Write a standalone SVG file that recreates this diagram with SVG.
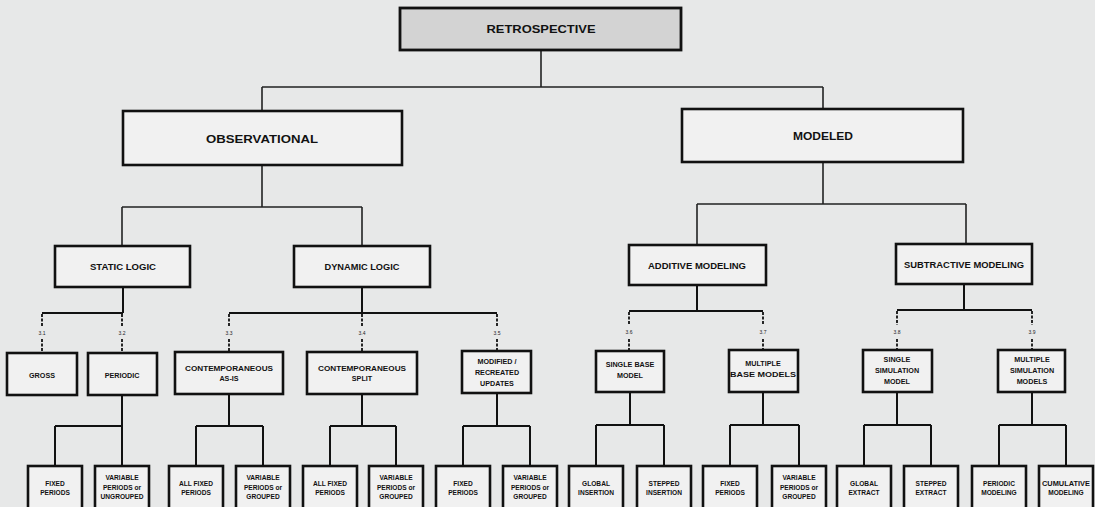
<svg xmlns="http://www.w3.org/2000/svg" width="1095" height="507" viewBox="0 0 1095 507">
  <style>
    .bg { fill: #e7e8e8; }
    .box { fill: #f1f1f1; stroke: #111; stroke-width: 2.6; }
    .root { fill: #d3d3d3; stroke: #111; stroke-width: 2.8; }
    .lbl { font-family: "Liberation Sans", Arial, sans-serif; font-weight: bold; fill: #111; text-anchor: middle; }
    .l1 { font-size: 10.5px; }
    .l2 { font-size: 10px; }
    .l3 { font-size: 8.5px; }
    .l4 { font-size: 7.2px; }
    .l5 { font-size: 6.6px; }
    .num { font-family: "Liberation Sans", Arial, sans-serif; font-size: 5px; fill: #222; text-anchor: middle; }
    .wire { fill: none; stroke: #222; stroke-width: 1.6; }
    .wire2 { fill: none; stroke: #111; stroke-width: 2; }
    .dash { fill: none; stroke: #111; stroke-width: 1.8; stroke-dasharray: 3 1.5; }
  </style>

  <rect class="bg" x="0" y="0" width="1095" height="507"/>

  <!-- connectors -->
  <g id="connectors">
    <!-- root to level 2 -->
    <path class="wire" d="M541,50 V87 M262,87 H823 M262,87 V111 M823,87 V109"/>
    <!-- level 2 to level 3 -->
    <path class="wire" d="M262,165 V207 M122,207 H362 M122,207 V246 M362,207 V246"/>
    <path class="wire" d="M823,162 V204 M697,204 H966 M697,204 V245 M966,204 V244"/>
    <!-- level 3 to level 4 -->
    <path class="wire2" d="M123,287 V313 M42,313 H123"/>
    <path class="wire2" d="M362,287 V313 M229,313 H497"/>
    <path class="wire2" d="M697,285 V311 M629,311 H763"/>
    <path class="wire2" d="M964,284 V310 M897,310 H1032"/>
    <!-- numbered drops -->
    <path class="dash" d="M42,314 V326 M42,339 V352 M122,314 V326 M122,339 V352 M229,314 V326 M229,339 V352 M362,314 V326 M362,339 V352 M497,314 V326 M497,339 V351"/>
    <path class="dash" d="M629,312 V325 M629,339 V351 M763,312 V325 M763,339 V350 M897,311 V325 M897,339 V350 M1032,311 V325 M1032,339 V350"/>
    <!-- level 4 to level 5 -->
    <path class="wire2" d="M122,394 V426 M55,426 H122 M55,426 V466 M122,426 V466"/>
    <path class="wire2" d="M229,394 V426 M196,426 H263 M196,426 V466 M263,426 V466"/>
    <path class="wire2" d="M362,394 V426 M330,426 H396 M330,426 V466 M396,426 V466"/>
    <path class="wire2" d="M497,393 V426 M463,426 H530 M463,426 V466 M530,426 V466"/>
    <path class="wire2" d="M630,392 V425 M596,425 H664 M596,425 V466 M664,425 V466"/>
    <path class="wire2" d="M763,392 V425 M730,425 H799 M730,425 V466 M799,425 V466"/>
    <path class="wire2" d="M897,392 V425 M864,425 H931 M864,425 V466 M931,425 V466"/>
    <path class="wire2" d="M1032,392 V425 M999,425 H1066 M999,425 V466 M1066,425 V466"/>
  </g>

  <!-- step numbers -->
  <g id="numbers">
    <text class="num" x="42" y="335">3.1</text>
    <text class="num" x="122" y="335">3.2</text>
    <text class="num" x="229" y="335">3.3</text>
    <text class="num" x="362" y="335">3.4</text>
    <text class="num" x="497" y="335">3.5</text>
    <text class="num" x="629" y="334">3.6</text>
    <text class="num" x="763" y="334">3.7</text>
    <text class="num" x="897" y="334">3.8</text>
    <text class="num" x="1032" y="334">3.9</text>
  </g>

  <!-- level 1 -->
  <g id="retrospective">
    <rect class="root" x="400" y="8" width="281" height="42"/>
    <text class="lbl l1" x="541" y="33" textLength="109" lengthAdjust="spacingAndGlyphs">RETROSPECTIVE</text>
  </g>

  <!-- level 2 -->
  <g id="observational">
    <rect class="box" x="123" y="111" width="279" height="54"/>
    <text class="lbl l2" x="262" y="143" textLength="112" lengthAdjust="spacingAndGlyphs">OBSERVATIONAL</text>
  </g>
  <g id="modeled">
    <rect class="box" x="682" y="109" width="281" height="53"/>
    <text class="lbl l2" x="823" y="140" textLength="60" lengthAdjust="spacingAndGlyphs">MODELED</text>
  </g>

  <!-- level 3 -->
  <g id="static-logic">
    <rect class="box" x="55" y="246" width="135" height="41"/>
    <text class="lbl l3" x="123" y="270" textLength="66" lengthAdjust="spacingAndGlyphs">STATIC LOGIC</text>
  </g>
  <g id="dynamic-logic">
    <rect class="box" x="294" y="246" width="136" height="41"/>
    <text class="lbl l3" x="362" y="270" textLength="75" lengthAdjust="spacingAndGlyphs">DYNAMIC LOGIC</text>
  </g>
  <g id="additive-modeling">
    <rect class="box" x="629" y="245" width="137" height="40"/>
    <text class="lbl l3" x="697" y="269" textLength="98" lengthAdjust="spacingAndGlyphs">ADDITIVE MODELING</text>
  </g>
  <g id="subtractive-modeling">
    <rect class="box" x="896" y="244" width="136" height="40"/>
    <text class="lbl l3" x="964" y="268" textLength="120" lengthAdjust="spacingAndGlyphs">SUBTRACTIVE MODELING</text>
  </g>

  <!-- level 4 -->
  <g id="gross">
    <rect class="box" x="7" y="353" width="70" height="42"/>
    <text class="lbl l4" x="42" y="377.5">GROSS</text>
  </g>
  <g id="periodic">
    <rect class="box" x="88" y="353" width="69" height="42"/>
    <text class="lbl l4" x="122" y="377.5">PERIODIC</text>
  </g>
  <g id="contemporaneous-as-is">
    <rect class="box" x="175" y="352" width="108" height="42"/>
    <text class="lbl l4" x="229" y="370.5" textLength="88" lengthAdjust="spacingAndGlyphs">CONTEMPORANEOUS</text>
    <text class="lbl l4" x="229" y="380.5">AS-IS</text>
  </g>
  <g id="contemporaneous-split">
    <rect class="box" x="307" y="352" width="110" height="42"/>
    <text class="lbl l4" x="362" y="370.5" textLength="88" lengthAdjust="spacingAndGlyphs">CONTEMPORANEOUS</text>
    <text class="lbl l4" x="362" y="380.5">SPLIT</text>
  </g>
  <g id="modified-recreated">
    <rect class="box" x="462" y="351" width="69" height="42"/>
    <text class="lbl l4" x="497" y="363.5">MODIFIED /</text>
    <text class="lbl l4" x="497" y="374.5">RECREATED</text>
    <text class="lbl l4" x="497" y="385.5">UPDATES</text>
  </g>
  <g id="single-base-model">
    <rect class="box" x="596" y="351" width="68" height="41"/>
    <text class="lbl l4" x="630" y="366.5">SINGLE BASE</text>
    <text class="lbl l4" x="630" y="377.5">MODEL</text>
  </g>
  <g id="multiple-base-models">
    <rect class="box" x="729" y="350" width="69" height="42"/>
    <text class="lbl l4" x="763" y="366">MULTIPLE</text>
    <text class="lbl l4" x="763" y="377" textLength="66" lengthAdjust="spacingAndGlyphs">BASE MODELS</text>
  </g>
  <g id="single-simulation-model">
    <rect class="box" x="863" y="350" width="69" height="42"/>
    <text class="lbl l4" x="897" y="361.5">SINGLE</text>
    <text class="lbl l4" x="897" y="372.5">SIMULATION</text>
    <text class="lbl l4" x="897" y="383.5">MODEL</text>
  </g>
  <g id="multiple-simulation-models">
    <rect class="box" x="998" y="350" width="67" height="42"/>
    <text class="lbl l4" x="1032" y="361.5">MULTIPLE</text>
    <text class="lbl l4" x="1032" y="372.5">SIMULATION</text>
    <text class="lbl l4" x="1032" y="383.5">MODELS</text>
  </g>

  <!-- level 5 -->
  <g id="fixed-periods-1">
    <rect class="box" x="28" y="466" width="54" height="46"/>
    <text class="lbl l5" x="55" y="485.5">FIXED</text>
    <text class="lbl l5" x="55" y="494.5">PERIODS</text>
  </g>
  <g id="variable-ungrouped">
    <rect class="box" x="95" y="466" width="54" height="46"/>
    <text class="lbl l5" x="122" y="480">VARIABLE</text>
    <text class="lbl l5" x="122" y="489.5">PERIODS or</text>
    <text class="lbl l5" x="122" y="499">UNGROUPED</text>
  </g>
  <g id="all-fixed-1">
    <rect class="box" x="169" y="466" width="54" height="46"/>
    <text class="lbl l5" x="196" y="485.5">ALL FIXED</text>
    <text class="lbl l5" x="196" y="494.5">PERIODS</text>
  </g>
  <g id="variable-grouped-1">
    <rect class="box" x="236" y="466" width="54" height="46"/>
    <text class="lbl l5" x="263" y="480">VARIABLE</text>
    <text class="lbl l5" x="263" y="489.5">PERIODS or</text>
    <text class="lbl l5" x="263" y="499">GROUPED</text>
  </g>
  <g id="all-fixed-2">
    <rect class="box" x="303" y="466" width="54" height="46"/>
    <text class="lbl l5" x="330" y="485.5">ALL FIXED</text>
    <text class="lbl l5" x="330" y="494.5">PERIODS</text>
  </g>
  <g id="variable-grouped-2">
    <rect class="box" x="369" y="466" width="54" height="46"/>
    <text class="lbl l5" x="396" y="480">VARIABLE</text>
    <text class="lbl l5" x="396" y="489.5">PERIODS or</text>
    <text class="lbl l5" x="396" y="499">GROUPED</text>
  </g>
  <g id="fixed-periods-2">
    <rect class="box" x="436" y="466" width="54" height="46"/>
    <text class="lbl l5" x="463" y="485.5">FIXED</text>
    <text class="lbl l5" x="463" y="494.5">PERIODS</text>
  </g>
  <g id="variable-grouped-3">
    <rect class="box" x="503" y="466" width="54" height="46"/>
    <text class="lbl l5" x="530" y="480">VARIABLE</text>
    <text class="lbl l5" x="530" y="489.5">PERIODS or</text>
    <text class="lbl l5" x="530" y="499">GROUPED</text>
  </g>
  <g id="global-insertion">
    <rect class="box" x="569" y="466" width="54" height="46"/>
    <text class="lbl l5" x="596" y="485.5">GLOBAL</text>
    <text class="lbl l5" x="596" y="494.5">INSERTION</text>
  </g>
  <g id="stepped-insertion">
    <rect class="box" x="637" y="466" width="54" height="46"/>
    <text class="lbl l5" x="664" y="485.5">STEPPED</text>
    <text class="lbl l5" x="664" y="494.5">INSERTION</text>
  </g>
  <g id="fixed-periods-3">
    <rect class="box" x="703" y="466" width="54" height="46"/>
    <text class="lbl l5" x="730" y="485.5">FIXED</text>
    <text class="lbl l5" x="730" y="494.5">PERIODS</text>
  </g>
  <g id="variable-grouped-4">
    <rect class="box" x="772" y="466" width="54" height="46"/>
    <text class="lbl l5" x="799" y="480">VARIABLE</text>
    <text class="lbl l5" x="799" y="489.5">PERIODS or</text>
    <text class="lbl l5" x="799" y="499">GROUPED</text>
  </g>
  <g id="global-extract">
    <rect class="box" x="837" y="466" width="54" height="46"/>
    <text class="lbl l5" x="864" y="485.5">GLOBAL</text>
    <text class="lbl l5" x="864" y="494.5">EXTRACT</text>
  </g>
  <g id="stepped-extract">
    <rect class="box" x="904" y="466" width="54" height="46"/>
    <text class="lbl l5" x="931" y="485.5">STEPPED</text>
    <text class="lbl l5" x="931" y="494.5">EXTRACT</text>
  </g>
  <g id="periodic-modeling">
    <rect class="box" x="972" y="466" width="54" height="46"/>
    <text class="lbl l5" x="999" y="485.5">PERIODIC</text>
    <text class="lbl l5" x="999" y="494.5">MODELING</text>
  </g>
  <g id="cumulative-modeling">
    <rect class="box" x="1039" y="466" width="54" height="46"/>
    <text class="lbl l5" x="1066" y="485.5" textLength="48" lengthAdjust="spacingAndGlyphs">CUMULATIVE</text>
    <text class="lbl l5" x="1066" y="494.5">MODELING</text>
  </g>
</svg>
